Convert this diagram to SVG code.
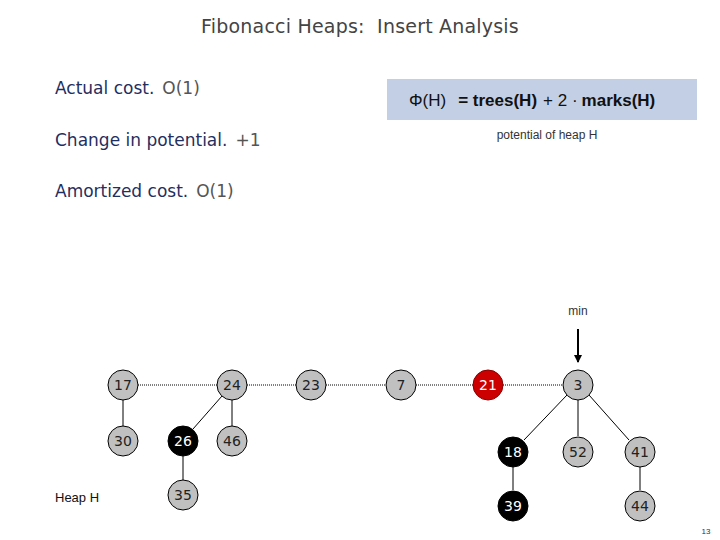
<svg xmlns="http://www.w3.org/2000/svg" width="720" height="540" viewBox="0 0 720 540">
<style>
.t{font-family:"DejaVu Sans","Liberation Sans",sans-serif;font-size:17px}
.n{fill:#1f2f5f}
.g{fill:#555}
.node circle{fill:#c0c0c0;stroke:#000;stroke-width:1}
.node text{font-family:"DejaVu Sans","Liberation Sans",sans-serif;font-size:14px;fill:#222;text-anchor:middle}
.node.black circle{fill:#000}
.node.black text{fill:#fff}
.node.red circle{fill:#cc0000;stroke:#800}
.node.red text{fill:#fff}
.edge{stroke:#000;stroke-width:1;fill:none}
.root{stroke:#000;stroke-width:1;stroke-dasharray:1 1;fill:none}
.s{font-family:"Liberation Sans",Arial,sans-serif}
</style>
<defs>
<marker id="ah" markerWidth="8" markerHeight="8" refX="7" refY="4" orient="auto" markerUnits="userSpaceOnUse">
<path d="M0,0 L8,4 L0,8 z" fill="#000"/>
</marker>
</defs>
<rect width="720" height="540" fill="#fff"/>
<text x="360" y="33" text-anchor="middle" class="t" style="font-size:19px;letter-spacing:0.2px" fill="#444" xml:space="preserve">Fibonacci Heaps:  Insert Analysis</text>
<text x="55" y="94" class="t"><tspan class="n">Actual cost.</tspan><tspan class="g" dx="8">O(1)</tspan></text>
<text x="55" y="146" class="t"><tspan class="n">Change in potential.</tspan><tspan class="g" dx="8">+1</tspan></text>
<text x="55" y="197" class="t"><tspan class="n">Amortized cost.</tspan><tspan class="g" dx="8">O(1)</tspan></text>
<rect x="387" y="79" width="310" height="41" fill="#c3cfe5"/>
<text x="409" y="106" class="s" font-size="17" fill="#111">Φ(H)<tspan dx="12" font-weight="bold">= trees(H)</tspan><tspan dx="6">+ 2 ·</tspan><tspan dx="4" font-weight="bold">marks(H)</tspan></text>
<text x="547" y="139" class="s" font-size="12" text-anchor="middle" fill="#333">potential of heap H</text>
<text x="578" y="315" class="s" font-size="12" text-anchor="middle" fill="#333">min</text>
<line x1="578" y1="329" x2="578" y2="362" stroke="#000" stroke-width="2" marker-end="url(#ah)"/>
<text x="55" y="502" class="s" font-size="13" fill="#111">Heap H</text>
<text x="706" y="534" class="s" font-size="8" text-anchor="middle" fill="#333">13</text>
<g id="connectors">
<line class="root" x1="138" y1="385" x2="217" y2="385"/>
<line class="root" x1="247" y1="385" x2="296" y2="385"/>
<line class="root" x1="326" y1="385" x2="386" y2="385"/>
<line class="root" x1="416" y1="385" x2="473" y2="385"/>
<line class="root" x1="503" y1="385" x2="563" y2="385"/>
<line class="edge" x1="123" y1="400" x2="123" y2="426"/>
<line class="edge" x1="222" y1="396" x2="193" y2="429"/>
<line class="edge" x1="232" y1="400" x2="232" y2="426"/>
<line class="edge" x1="183" y1="456" x2="183" y2="480"/>
<line class="edge" x1="567" y1="395" x2="524" y2="440"/>
<line class="edge" x1="578" y1="400" x2="578" y2="436"/>
<line class="edge" x1="589" y1="395" x2="629" y2="440"/>
<line class="edge" x1="513" y1="467" x2="513" y2="490"/>
<line class="edge" x1="640" y1="467" x2="640" y2="490"/>
</g>
<g id="n17" class="node"><circle cx="123" cy="385" r="15"/><text x="123" y="390">17</text></g>
<g id="n24" class="node"><circle cx="232" cy="385" r="15"/><text x="232" y="390">24</text></g>
<g id="n23" class="node"><circle cx="311" cy="385" r="15"/><text x="311" y="390">23</text></g>
<g id="n7" class="node"><circle cx="401" cy="385" r="15"/><text x="401" y="390">7</text></g>
<g id="n21" class="node red"><circle cx="488" cy="385" r="15"/><text x="488" y="390">21</text></g>
<g id="n3" class="node"><circle cx="578" cy="385" r="15"/><text x="578" y="390">3</text></g>
<g id="n30" class="node"><circle cx="123" cy="441" r="15"/><text x="123" y="446">30</text></g>
<g id="n26" class="node black"><circle cx="183" cy="441" r="15"/><text x="183" y="446">26</text></g>
<g id="n46" class="node"><circle cx="232" cy="441" r="15"/><text x="232" y="446">46</text></g>
<g id="n35" class="node"><circle cx="183" cy="495" r="15"/><text x="183" y="500">35</text></g>
<g id="n18" class="node black"><circle cx="513" cy="452" r="15"/><text x="513" y="457">18</text></g>
<g id="n52" class="node"><circle cx="578" cy="452" r="15"/><text x="578" y="457">52</text></g>
<g id="n41" class="node"><circle cx="640" cy="452" r="15"/><text x="640" y="457">41</text></g>
<g id="n39" class="node black"><circle cx="513" cy="506" r="15"/><text x="513" y="511">39</text></g>
<g id="n44" class="node"><circle cx="640" cy="506" r="15"/><text x="640" y="511">44</text></g>
</svg>
